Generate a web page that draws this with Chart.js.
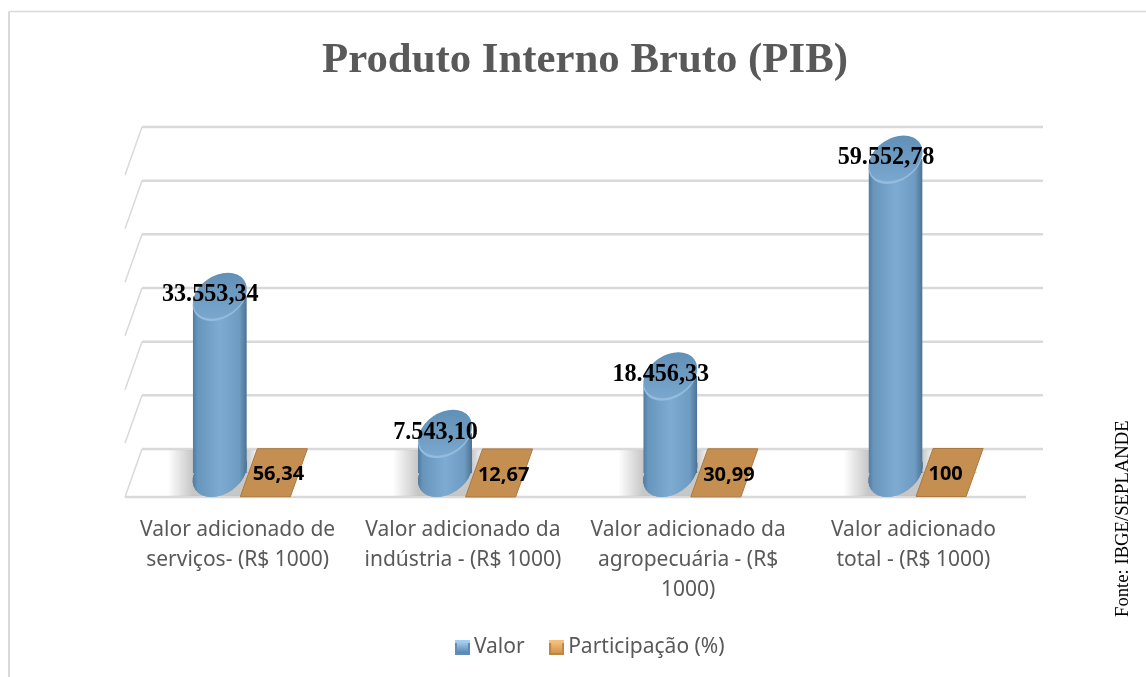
<!DOCTYPE html>
<html><head><meta charset="utf-8">
<style>html,body{margin:0;padding:0;background:#fff;overflow:hidden}#w{width:1146px;height:677px;position:relative}canvas{display:block}</style>
<script src="https://cdn.jsdelivr.net/npm/chart.js@4"></script>
</head><body><div id="w"><canvas id="c" width="1146" height="677"></canvas></div>
<script>
const categories = [
  ["Valor adicionado de","serviços- (R$ 1000)"],
  ["Valor adicionado da","indústria - (R$ 1000)"],
  ["Valor adicionado da","agropecuária - (R$","1000)"],
  ["Valor adicionado","total - (R$ 1000)"]
];
const valor = [33553.34, 7543.10, 18456.33, 59552.78];
const participacao = [56.34, 12.67, 30.99, 100];
const valorLabels = ["33.553,34","7.543,10","18.456,33","59.552,78"];
const participacaoLabels = ["56,34","12,67","30,99","100"];
const gridTicks = [0,10000,20000,30000,40000,50000,60000];
const titleText = "Produto Interno Bruto (PIB)";
const sourceText = "Fonte: IBGE/SEPLANDE";

const DX = 17, DY = 48, SK = DX/DY, GRID = '#d9d9d9', OX = DX/2+0.7;
function ell(ctx,cx,cy,rx,ry){
  ctx.save();ctx.transform(1,0,-SK,1,cx+SK*cy,0);ctx.beginPath();ctx.ellipse(0,cy,rx,ry,0,0,Math.PI*2);ctx.restore();
}
function cylGrad(ctx,l,r){
  const g=ctx.createLinearGradient(l,0,r,0);
  g.addColorStop(0,'#517b9f');g.addColorStop(.09,'#6795bc');g.addColorStop(.5,'#7dabd2');
  g.addColorStop(.86,'#6e9bc1');g.addColorStop(1,'#4c7292');return g;
}
const deco = {
  id:'deco',
  afterLayout(chart){ chart.legend.left+=8; chart.legend.right+=8; },
  beforeDatasetsDraw(chart){
    const {ctx,scales:{x,grid}}=chart;
    const l=x.left,r=x.right;
    ctx.save();
    ctx.strokeStyle=GRID;
    gridTicks.forEach(t=>{
      const y=grid.getPixelForValue(t);
      ctx.lineWidth=1.5;ctx.beginPath();ctx.moveTo(l,y+DY);ctx.lineTo(l+DX,y);ctx.stroke();
      ctx.lineWidth=2.5;ctx.beginPath();ctx.moveTo(l+DX,y);ctx.lineTo(r+DX,y);ctx.stroke();
    });
    const y0=grid.getPixelForValue(0);
    ctx.beginPath();ctx.moveTo(l,y0+DY);ctx.lineTo(r,y0+DY);ctx.lineWidth=2.5;ctx.stroke();
    const m0=chart.getDatasetMeta(0);
    m0.data.forEach(b=>{
      const c=b.x+OX;
      const g=ctx.createLinearGradient(c-52,0,c+40,0);
      g.addColorStop(0,'rgba(175,175,175,0)');g.addColorStop(.27,'rgba(175,175,175,.7)');
      g.addColorStop(.85,'rgba(175,175,175,.7)');g.addColorStop(1,'rgba(175,175,175,0)');
      ctx.fillStyle=g;
      ctx.beginPath();ctx.moveTo(c-60-DX/2,y0+DY-1);ctx.lineTo(c-60+DX/2,y0+1);ctx.lineTo(c+40+DX/2,y0+1);ctx.lineTo(c+40-DX/2,y0+DY-1);ctx.closePath();ctx.fill();
    });
    ctx.restore();
  },
  beforeDatasetDraw(chart,args){
    const {ctx}=chart;ctx.save();
    ctx.translate(OX,0);
    if(args.index===0){
      const m=args.meta;
      m.data.forEach(b=>{
        const c=b.x,w=b.width/2,gr=cylGrad(ctx,c-w,c+w);
        b.options=Object.assign({},b.options,{backgroundColor:gr,borderWidth:0,borderSkipped:false,inflateAmount:0});
        ctx.fillStyle=gr;
        ell(ctx,c,b.base,w-1.3,DY/2);ctx.fill();
      });
      ctx.beginPath();
      m.data.forEach(b=>{
        const c=b.x,w=b.width/2,t=b.y,bt=b.base;
        ctx.moveTo(c-w,t+DX/2);ctx.lineTo(c+w,t-DX/2);ctx.lineTo(c+w,bt);ctx.lineTo(c-w,bt);ctx.closePath();
      });
      ctx.clip();
    }
  },
  afterDatasetDraw(chart,args){
    const {ctx}=chart;ctx.restore();
    ctx.save();ctx.translate(OX,0);
    const m=args.meta;
    if(args.index===1){
      m.data.forEach(b=>{
        const c=b.x,w=b.width/2-2,y=b.y;
        ctx.fillStyle='#c48f51';ctx.strokeStyle='#a9783f';ctx.lineWidth=1;
        ctx.beginPath();
        ctx.moveTo(c-w-DX/2,y+DY/2);ctx.lineTo(c-w+DX/2,y-DY/2);ctx.lineTo(c+w+DX/2,y-DY/2);ctx.lineTo(c+w-DX/2,y+DY/2);ctx.closePath();
        ctx.fill();ctx.stroke();
      });
    } else {
      m.data.forEach(b=>{
        const c=b.x,w=b.width/2,yb=b.base,yt=b.y;
        ctx.fillStyle=cylGrad(ctx,c-w,c+w);
        ell(ctx,c,yb,w-1.3,DY/2);ctx.fill();
        ctx.fillStyle='#94bcdf';
        ell(ctx,c,yt+1,w-1.3,DY/2);ctx.fill();
        const g=ctx.createLinearGradient(0,yt-DY/2,0,yt+DY/2);
        g.addColorStop(0,'#6190b6');g.addColorStop(.55,'#6f9cc2');g.addColorStop(1,'#7aa8ce');
        ctx.fillStyle=g;
        ell(ctx,c,yt-.5,w-1.6,DY/2-1);ctx.fill();
      });
    }
    ctx.restore();
  },
  afterDatasetsDraw(chart){
    const {ctx}=chart;
    const m0=chart.getDatasetMeta(0),m1=chart.getDatasetMeta(1);
    ctx.save();ctx.textAlign='center';ctx.textBaseline='middle';ctx.fillStyle='#000';
    ctx.font='bold 24.2px "Liberation Serif"';
    m0.data.forEach((b,i)=>ctx.fillText(valorLabels[i],b.x+OX-9.5,b.y-1));
    ctx.font='bold 20px "Open Sans"';
    m1.data.forEach((b,i)=>ctx.fillText(participacaoLabels[i],b.x+OX+(i===3?-4:4.5),b.y+2));
    ctx.restore();
    ctx.save();ctx.fillStyle='#000';ctx.font='18.7px "Liberation Serif"';ctx.translate(1128,617);ctx.rotate(-Math.PI/2);
    ctx.textAlign='left';ctx.textBaseline='alphabetic';ctx.fillText(sourceText,0,0);ctx.restore();
    ctx.save();ctx.strokeStyle=GRID;ctx.lineWidth=2;ctx.beginPath();ctx.moveTo(9,677);ctx.lineTo(9,11.5);ctx.stroke();
    ctx.lineWidth=1.5;ctx.beginPath();ctx.moveTo(9,11.5);ctx.lineTo(1146,11.5);ctx.stroke();ctx.restore();
  }
};
function sw(c1,c2,edge){
  const s=document.createElement('canvas');s.width=s.height=15;const t=s.getContext('2d');
  t.fillStyle=edge;t.fillRect(0,0,15,15);
  t.fillStyle=c2;t.fillRect(0,0,15,3);
  const g=t.createLinearGradient(0,2,0,14);g.addColorStop(0,c2);g.addColorStop(1,c1);
  t.fillStyle=g;t.fillRect(2,2,11,11);return s;
}
const blueSw=sw('#4f81a8','#a5cdf0','#5f8db5'), orSw=sw('#d08f48','#f5bf7a','#b98748');
new Chart(document.getElementById('c'),{
  type:'bar',
  data:{labels:categories,datasets:[
    {label:'Valor',data:valor,yAxisID:'y',backgroundColor:'#6f9fc9',borderWidth:0,categoryPercentage:.48,barPercentage:1},
    {label:'Participação (%)',data:participacao,yAxisID:'y',backgroundColor:'#c48f51',borderWidth:0,categoryPercentage:.48,barPercentage:1}
  ]},
  plugins:[deco],
  options:{
    responsive:false,animation:false,
    layout:{padding:{left:125,right:101,top:22,bottom:9}},
    plugins:{
      title:{display:true,text:titleText,color:'#595959',font:{family:'"Liberation Serif"',size:42.8,weight:'bold'},padding:{top:13,bottom:40.6}},
      legend:{position:'bottom',labels:{usePointStyle:true,color:'#595959',font:{family:'"Noto Sans"',size:21},boxWidth:2,boxHeight:15,padding:31,
        generateLabels:(ch)=>ch.data.datasets.map((d,i)=>({text:d.label,datasetIndex:i,pointStyle:i===0?blueSw:orSw,fontColor:'#595959',lineWidth:0,strokeStyle:'transparent'}))},onClick:null},
      tooltip:{enabled:false}
    },
    scales:{
      x:{grid:{display:false},border:{display:false},ticks:{color:'#595959',font:{family:'"Noto Sans"',size:21,lineHeight:1.43},padding:34,maxRotation:0,autoSkip:false},afterFit:a=>{a.height=133}},
      y:{display:true,position:'left',min:0,max:65655,grid:{display:false},border:{display:false},ticks:{display:false},afterFit:a=>{a.width=0}},
      grid:{display:true,position:'right',min:-4472,max:60000,grid:{display:false},border:{display:false},ticks:{display:false},afterFit:a=>{a.width=19}}
    }
  }
});
</script></body></html>
